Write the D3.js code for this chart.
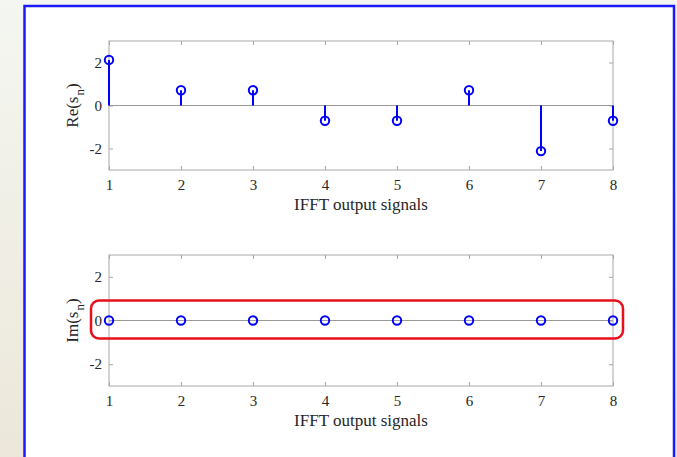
<!DOCTYPE html>
<html>
<head>
<meta charset="utf-8">
<script src="https://cdn.jsdelivr.net/npm/d3@7"></script>
<style>
html,body{margin:0;padding:0;background:#fff;}
svg{display:block;}
text{font-family:"Liberation Serif","Times New Roman",serif;fill:#262626;}
</style>
</head>
<body>
<svg id="chart" width="677" height="457"></svg>
<script>
// ---- data ----
const sampleIndex = [1, 2, 3, 4, 5, 6, 7, 8];
const reValues = [2.1213, 0.7071, 0.7071, -0.7071, -0.7071, 0.7071, -2.1213, -0.7071];
const imValues = [0, 0, 0, 0, 0, 0, 0, 0];
const xTickValues = [1, 2, 3, 4, 5, 6, 7, 8];
const yTickValues = [-2, 0, 2];
const yDomain = [-3, 3];
const xLabelText = "IFFT output signals";
const yLabelParts = [["Re(s", "n", ")"], ["Im(s", "n", ")"]];

const svg = d3.select("#chart");
const W = 677, H = 457;

// background
const defs = svg.append("defs");
const g = defs.append("linearGradient").attr("id", "bg").attr("x1", 0).attr("y1", 0).attr("x2", 0).attr("y2", 1);
g.append("stop").attr("offset", "0%").attr("stop-color", "#f4f6f1");
g.append("stop").attr("offset", "100%").attr("stop-color", "#ece7da");
svg.append("rect").attr("width", W).attr("height", H).attr("fill", "url(#bg)");

// blue frame
svg.append("rect").attr("x", 24.5).attr("y", 6).attr("width", 649.5).attr("height", 470)
  .attr("fill", "#fff").attr("stroke", "#1a1aff").attr("stroke-width", 2.5);

const x = d3.scaleLinear().domain([1, 8]).range([109, 613]);

const panels = [
  { values: reValues, top: 41, bottom: 170, label: yLabelParts[0] },
  { values: imValues, top: 255, bottom: 386, label: yLabelParts[1] }
];

const axisColor = "#a8a8a8";
const fmt = d => String(d);

panels.forEach((p, pi) => {
  const y = d3.scaleLinear().domain(yDomain).range([p.bottom, p.top]);
  const gp = svg.append("g");

  // box
  gp.append("rect").attr("x", x.range()[0]).attr("y", p.top)
    .attr("width", x.range()[1] - x.range()[0]).attr("height", p.bottom - p.top)
    .attr("fill", "#fff").attr("stroke", axisColor).attr("stroke-width", 1);

  const styleAxis = sel => {
    sel.select(".domain").remove();
    sel.selectAll(".tick line").attr("stroke", axisColor);
    sel.selectAll(".tick text").attr("font-size", 15).attr("fill", "#262626")
      .attr("font-family", "Liberation Serif, Times New Roman, serif");
  };

  // bottom axis with labels
  gp.append("g").attr("transform", `translate(0,${p.bottom})`)
    .call(d3.axisBottom(x).tickValues(xTickValues).tickFormat(fmt).tickSize(-4).tickPadding(9))
    .call(styleAxis);
  // top axis ticks only
  gp.append("g").attr("transform", `translate(0,${p.top})`)
    .call(d3.axisTop(x).tickValues(xTickValues).tickFormat("").tickSize(-4))
    .call(styleAxis);
  // left axis with labels
  gp.append("g").attr("transform", `translate(${x.range()[0]},0)`)
    .call(d3.axisLeft(y).tickValues(yTickValues).tickFormat(fmt).tickSize(-4).tickPadding(7))
    .call(styleAxis);
  // right axis ticks only
  gp.append("g").attr("transform", `translate(${x.range()[1]},0)`)
    .call(d3.axisRight(y).tickValues(yTickValues).tickFormat("").tickSize(-4))
    .call(styleAxis);

  // zero baseline
  gp.append("line").attr("x1", x.range()[0]).attr("x2", x.range()[1])
    .attr("y1", y(0)).attr("y2", y(0)).attr("stroke", "#999").attr("stroke-width", 1);

  // stems
  gp.selectAll(".stem").data(p.values).enter().append("line")
    .attr("x1", (d, i) => x(sampleIndex[i])).attr("x2", (d, i) => x(sampleIndex[i]))
    .attr("y1", y(0)).attr("y2", d => y(d))
    .attr("stroke", "#0000ff").attr("stroke-width", 2);

  // markers
  gp.selectAll(".mk").data(p.values).enter().append("circle")
    .attr("cx", (d, i) => x(sampleIndex[i])).attr("cy", d => y(d)).attr("r", 4.2)
    .attr("fill", "none").attr("stroke", "#0000ff").attr("stroke-width", 2);

  // x label
  gp.append("text").attr("x", (x.range()[0] + x.range()[1]) / 2).attr("y", p.bottom + 40)
    .attr("text-anchor", "middle").attr("font-size", 17).text(xLabelText);

  // y label
  const cy = y(0);
  const yl = gp.append("text").attr("transform", `translate(78,${cy}) rotate(-90)`)
    .attr("text-anchor", "middle").attr("font-size", 17);
  yl.append("tspan").text(p.label[0]);
  yl.append("tspan").attr("dy", 6).attr("dx", 1).attr("font-size", 13).text(p.label[1]);
  yl.append("tspan").attr("dy", -6).text(p.label[2]);

  // red highlight around the imaginary samples
  if (pi === 1) {
    const x0 = x(sampleIndex[0]) - 18, x1 = x(sampleIndex[sampleIndex.length - 1]) + 10;
    gp.append("rect").attr("x", x0).attr("y", y(0) - 20).attr("width", x1 - x0).attr("height", 38)
      .attr("rx", 8).attr("ry", 8).attr("fill", "none").attr("stroke", "#e8101a").attr("stroke-width", 2.5);
  }
});
</script>
</body>
</html>
